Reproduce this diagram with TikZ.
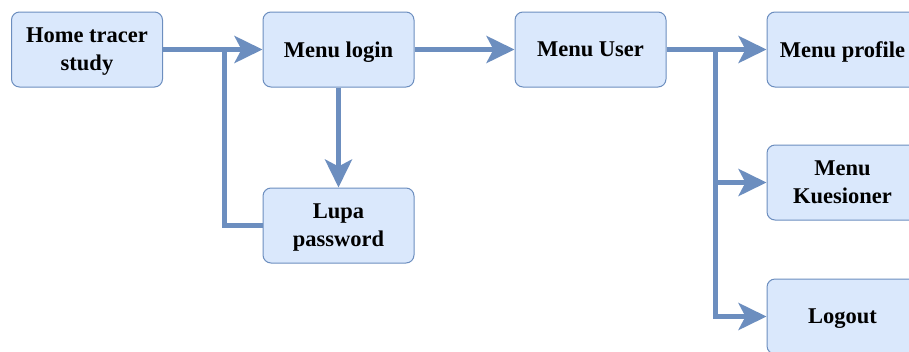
\documentclass[tikz,border=0pt]{standalone}
\usepackage{fontspec}
\setmainfont{Liberation Serif}
\usetikzlibrary{arrows.meta}
\definecolor{boxfill}{HTML}{DAE8FC}
\definecolor{boxline}{HTML}{6C8EBF}
\definecolor{flow}{HTML}{6C8EBF}
\tikzset{
  menubox/.style={rectangle, rounded corners=8pt, draw=boxline, line width=1pt,
    fill=boxfill, minimum width=151pt, minimum height=75pt, align=center,
    inner sep=2pt, text=black, text depth=0pt,
    font=\bfseries\fontsize{22.5pt}{28pt}\selectfont},
  link/.style={draw=flow, line width=5pt},
  arr/.style={link, -{Stealth[length=28pt,width=27pt,inset=7pt]}}
}
\begin{document}
\begin{tikzpicture}[x=1pt,y=-1pt]
  \useasboundingbox (0,0) rectangle (909,351);

  \node[menubox] (home)    at (87,49.5)    {Home tracer\\study};
  \node[menubox] (login)   at (338.5,49.5) {Menu login};
  \node[menubox] (user)    at (590.5,49.5) {Menu User};
  \node[menubox] (profile) at (842.5,49.5) {Menu profile};
  \node[menubox] (lupa)    at (338.5,225.5){Lupa\\password};
  \node[menubox] (kues)    at (842.5,182.5){Menu\\Kuesioner};
  \node[menubox] (logout)  at (842.5,316.5){Logout};

  \coordinate (j1) at (224.5,49.5);
  \coordinate (j2) at (715,49.5);

  % main flow
  \draw[arr] (home) -- (login);
  \draw[link] (lupa.west) -| (j1);
  \draw[arr] (login) -- (lupa);
  \draw[arr] (login) -- (user);
  \draw[arr] (user) -- (profile);
  \draw[arr] (j2) |- (kues.west);
  \draw[arr] (j2) |- (logout.west);
\end{tikzpicture}
\end{document}
